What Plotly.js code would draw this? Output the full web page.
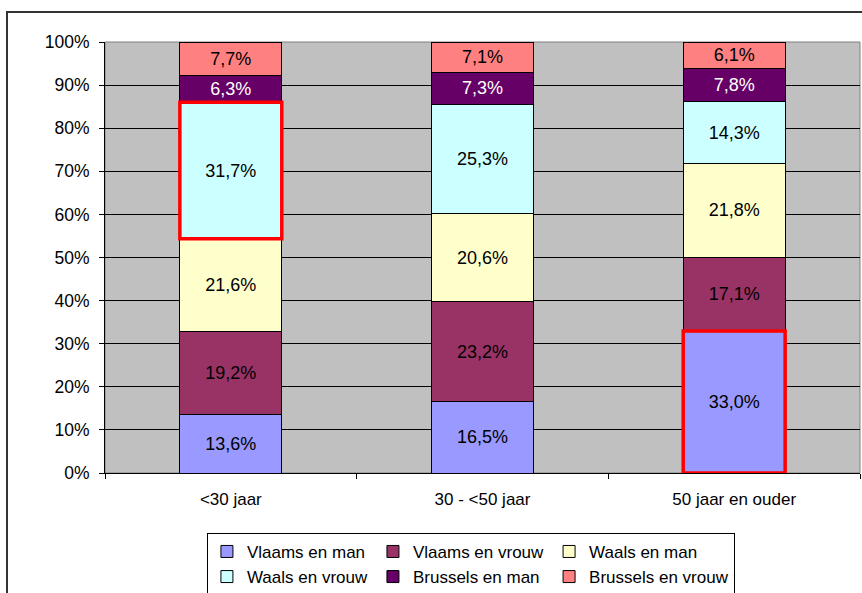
<!DOCTYPE html>
<html>
<head>
<meta charset="utf-8">
<script src="https://cdn.plot.ly/plotly-3.0.1.min.js"></script>
<style>html,body{margin:0;padding:0;background:#fff;}#chart{width:862px;height:593px;}</style>
</head>
<body>
<div id="chart"></div>
<script>
const categories = ['<30 jaar', '30 - <50 jaar', '50 jaar en ouder'];
const seriesNames = ['Vlaams en man', 'Vlaams en vrouw', 'Waals en man', 'Waals en vrouw', 'Brussels en man', 'Brussels en vrouw'];
const vlaamsMan = [13.6, 16.5, 33.0];
const vlaamsVrouw = [19.2, 23.2, 17.1];
const waalsMan = [21.6, 20.6, 21.8];
const waalsVrouw = [31.7, 25.3, 14.3];
const brusselsMan = [6.3, 7.3, 7.8];
const brusselsVrouw = [7.7, 7.1, 6.1];
const yTickValues = [0, 10, 20, 30, 40, 50, 60, 70, 80, 90, 100];
// highlighted segments: [category index, series index]
const highlighted = [[0, 3], [2, 0]];

const seriesValues = [vlaamsMan, vlaamsVrouw, waalsMan, waalsVrouw, brusselsMan, brusselsVrouw];
const colors = ['#9999FF', '#993366', '#FFFFCC', '#CCFFFF', '#660066', '#FF8080'];
const textColors = ['#000', '#000', '#000', '#000', '#fff', '#000'];
const groups = ['a', 'b', 'c', 'a', 'b', 'c'];
const FONT = 'Liberation Sans, Arial, sans-serif';
const fmt = v => v.toFixed(1).replace('.', ',') + '%';

const traces = seriesValues.map((vals, i) => ({
  type: 'bar',
  name: seriesNames[i],
  x: categories,
  y: vals,
  text: vals.map(fmt),
  textposition: 'inside',
  insidetextanchor: 'middle',
  textangle: 0,
  constraintext: 'none',
  textfont: {family: FONT, size: 18, color: textColors[i]},
  marker: {color: colors[i], line: {color: '#000', width: 1}},
  legendgroup: groups[i],
  hoverinfo: 'name+text'
}));

const bargap = 0.595;
const half = (1 - bargap) / 2;
const shapes = highlighted.map(([c, s]) => {
  const total = seriesValues.reduce((a, arr) => a + arr[c], 0);
  let base = 0;
  for (let k = 0; k < s; k++) base += seriesValues[k][c];
  return {
    type: 'rect', xref: 'x', yref: 'y', layer: 'above',
    x0: c - half, x1: c + half,
    y0: base / total * 100, y1: (base + seriesValues[s][c]) / total * 100,
    line: {color: '#FF0000', width: 3.5}
  };
});
// plot frame (gray) and outer chart border
shapes.push({type: 'rect', xref: 'paper', yref: 'paper', x0: 0, x1: 1, y0: 0, y1: 1, layer: 'below', line: {color: '#808080', width: 1}});
shapes.push({type: 'rect', xref: 'paper', yref: 'paper', x0: -0.1298, x1: 1.05, y0: -0.35, y1: 1.0696, layer: 'below', line: {color: '#333', width: 2}});

const layout = {
  width: 862, height: 593,
  margin: {l: 105, r: 2, t: 42, b: 120, autoexpand: false},
  paper_bgcolor: '#fff',
  plot_bgcolor: '#C0C0C0',
  barmode: 'stack',
  barnorm: 'percent',
  bargap: bargap,
  font: {family: FONT, size: 17, color: '#000'},
  showlegend: true,
  legend: {
    orientation: 'h', traceorder: 'grouped',
    x: 0.135, xanchor: 'left', y: -0.139, yanchor: 'top',
    bgcolor: '#fff', bordercolor: '#000', borderwidth: 1,
    font: {family: FONT, size: 17, color: '#000'}
  },
  xaxis: {
    type: 'category',
    showline: true, linecolor: '#000', linewidth: 1,
    ticks: 'outside', tickson: 'boundaries', ticklen: 5, tickcolor: '#000',
    ticklabelstandoff: 11,
    showgrid: false, zeroline: false,
    tickfont: {family: FONT, size: 17, color: '#000'}
  },
  yaxis: {
    range: [0, 100],
    tickvals: yTickValues,
    ticktext: yTickValues.map(v => v + '%'),
    showline: true, linecolor: '#000', linewidth: 1,
    ticks: 'outside', ticklen: 5, tickcolor: '#000',
    ticklabelstandoff: 6,
    showgrid: true, gridcolor: '#000', gridwidth: 1,
    zeroline: false,
    tickfont: {family: FONT, size: 17.5, color: '#000'}
  },
  shapes: shapes
};

Plotly.newPlot('chart', traces, layout, {displayModeBar: false, staticPlot: true});
</script>
</body>
</html>
